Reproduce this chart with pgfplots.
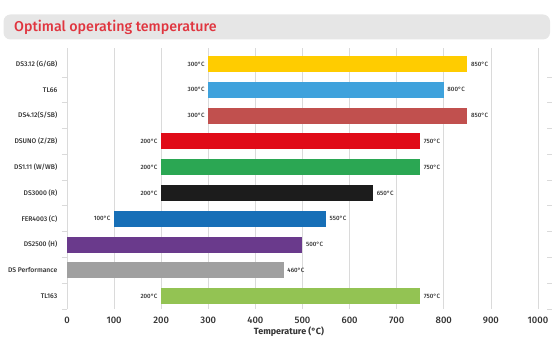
\documentclass[border=0pt]{standalone}
\usepackage{pgfplots}
\pgfplotsset{compat=1.18}
\usepackage{pgfplotstable}
\usepackage{fontspec}
\setmainfont{Fira Sans}
\newfontfamily\firamed{Fira Sans Medium}
\definecolor{c9}{HTML}{FFCC00}
\definecolor{c8}{HTML}{3FA2DC}
\definecolor{c7}{HTML}{C1504E}
\definecolor{c6}{HTML}{E00B18}
\definecolor{c5}{HTML}{2BA753}
\definecolor{c4}{HTML}{1C1C1C}
\definecolor{c3}{HTML}{176FB7}
\definecolor{c2}{HTML}{6A3A8C}
\definecolor{c1}{HTML}{A0A0A0}
\definecolor{c0}{HTML}{93C353}
\definecolor{titlered}{HTML}{E0353F}
\definecolor{titlegrey}{HTML}{E6E6E6}
\definecolor{gridgrey}{HTML}{DADADA}
\definecolor{txt}{HTML}{333333}

\pgfplotstableread{
y low high
9 300 850
8 300 800
7 300 850
6 200 750
5 200 750
4 200 650
3 100 550
2 0 500
1 0 460
0 200 750
}\temps

\pgfplotsset{common/.style={
  at={(67bp,41bp)}, anchor=south west, scale only axis,
  width=480.4bp, height=261bp,
  xmin=0, xmax=1020, ymin=-0.5, ymax=9.62,
}}

\begin{document}
\begin{tikzpicture}
\useasboundingbox (0,0) rectangle (552bp,350bp);
\fill[titlegrey, rounded corners=7bp] (3.5bp,310.5bp) rectangle (550bp,335.5bp);
\node[anchor=west, text=titlered, font=\firamed\fontsize{14.3}{16}\selectfont, inner sep=0pt] at (14bp,323bp) {Optimal operating temperature};

\begin{axis}[common,
  xbar stacked, bar width=16bp,
  axis line style={draw=none},
  xtick={0,100,...,1000},
  xmajorgrids, grid style={gridgrey, line width=0.7bp},
  major x tick style={draw=none},
  ytick={0,...,9},
  yticklabels={TL163, DS Performance, DS2500 (H), FER4003 (C), DS3000 (R), DS1.11 (W/WB), DSUNO (Z/ZB), DS4.12(S/SB), TL66, DS3.12 (G/GB)},
  major y tick style={draw=none},
  minor ytick={-0.5,0.5,...,8.5},
  minor y tick style={gridgrey, line width=0.7bp},
  minor tick length=5bp,
  tick align=outside,
  yticklabel style={font=\firamed\fontsize{6.8}{8}\selectfont, text=txt, xshift=-2bp},
  xticklabel style={font=\firamed\fontsize{9.5}{10}\selectfont, text=txt, yshift=0bp},
  /pgf/number format/assume math mode=true,
  /pgf/number format/1000 sep={},
]
\addplot[draw=none, fill=none] table[x=low, y=y] \temps;
\pgfplotsinvokeforeach{9,8,7,6,5,4,3,2,1,0}{
  \addplot[draw=none, fill=c#1] table[y=y, x expr={\thisrow{y}==#1 ? \thisrow{high}-\thisrow{low} : 0}] \temps;
}
\end{axis}

\begin{axis}[common, hide axis]
\addplot[draw=none, mark=none, restrict x to domain=50:2000, point meta=x,
  nodes near coords={\pgfmathprintnumber[assume math mode=true]{\pgfplotspointmeta}°C},
  every node near coord/.style={anchor=east, font=\firamed\fontsize{6.2}{7}\selectfont, text=txt, inner sep=0pt, xshift=-3.5bp}]
  table[x=low, y=y] \temps;
\addplot[draw=none, mark=none, point meta=x,
  nodes near coords={\pgfmathprintnumber[assume math mode=true]{\pgfplotspointmeta}°C},
  every node near coord/.style={anchor=west, font=\firamed\fontsize{6.2}{7}\selectfont, text=txt, inner sep=0pt, xshift=3.5bp}]
  table[x=high, y=y] \temps;
\end{axis}

\node[font=\bfseries\fontsize{9}{10}\selectfont, text=txt] at (289bp,18bp) {Temperature (°C)};
\end{tikzpicture}
\end{document}
